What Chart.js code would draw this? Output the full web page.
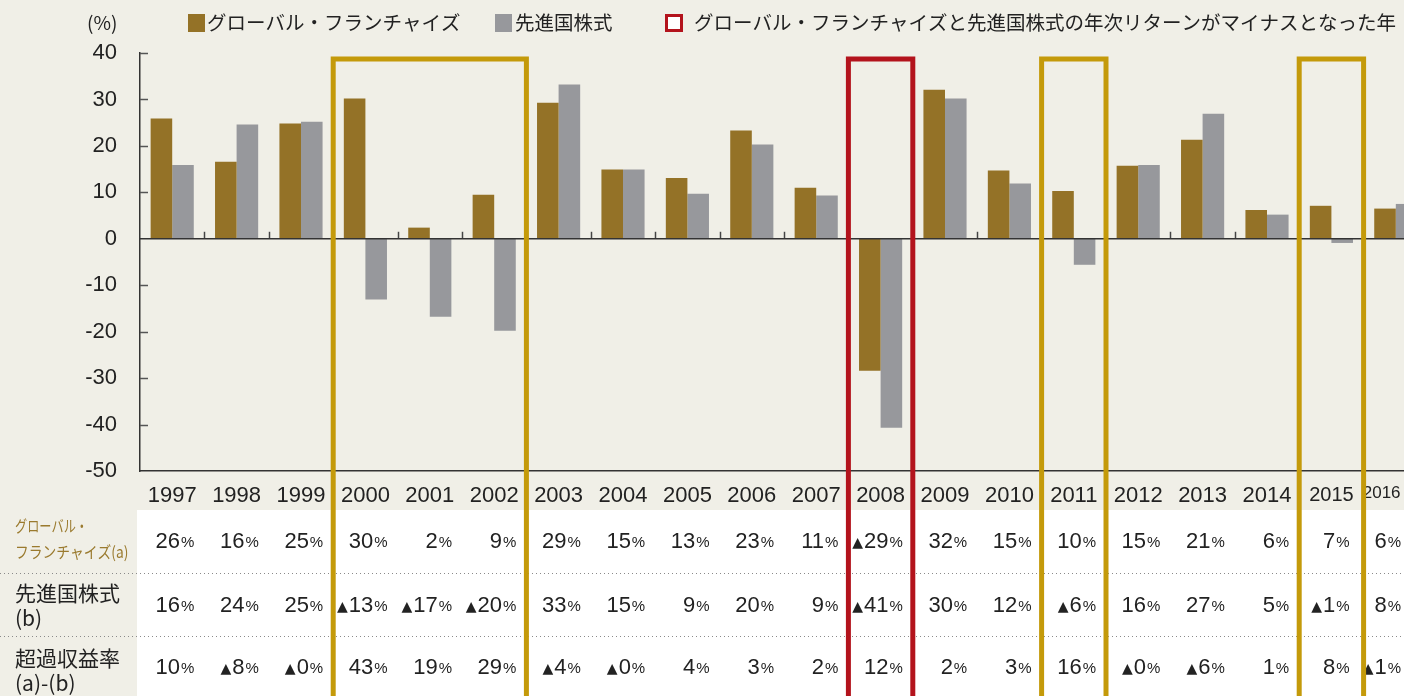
<!DOCTYPE html>
<html>
<head>
<meta charset="utf-8">
<script src="https://cdn.jsdelivr.net/npm/chart.js@4.4.1/dist/chart.umd.min.js"></script>
<style>
  html, body { margin: 0; padding: 0; background: #f0efe7; overflow: hidden; }
</style>
</head>
<body>
<canvas id="myChart" width="1428" height="696"></canvas>
<script>
const years = ['1997','1998','1999','2000','2001','2002','2003','2004','2005','2006',
  '2007','2008','2009','2010','2011','2012','2013','2014','2015','2016'];

// bar heights (%)
const franchise = [25.9, 16.6, 24.8, 30.2, 2.4, 9.5, 29.3, 14.9, 13.1, 23.3,
  11.0, -28.4, 32.1, 14.7, 10.3, 15.7, 21.3, 6.2, 7.1, 6.5];
const developed = [15.9, 24.6, 25.2, -13.1, -16.8, -19.8, 33.2, 14.9, 9.7, 20.3,
  9.3, -40.7, 30.2, 11.9, -5.6, 15.9, 26.9, 5.2, -0.9, 7.5];

// table rows as printed (▲ = minus)
const rowFranchise = ['26','16','25','30','2','9','29','15','13','23',
  '11','▲29','32','15','10','15','21','6','7','6'];
const rowDeveloped = ['16','24','25','▲13','▲17','▲20','33','15','9','20',
  '9','▲41','30','12','▲6','16','27','5','▲1','8'];
const rowExcess = ['10','▲8','▲0','43','19','29','▲4','▲0','4','3',
  '2','12','2','3','16','▲0','▲6','1','8','▲1'];

const seriesNames = ['グローバル・フランチャイズ', '先進国株式'];
const boxNote = 'グローバル・フランチャイズと先進国株式の年次リターンがマイナスとなった年';

// highlighted year ranges
const goldRanges = [['2000','2002'], ['2011','2011'], ['2015','2015']];
const redRanges = [['2008','2008']];

const BROWN = '#947227';
const GRAY = '#97989c';
const GOLD = '#c49a0a';
const RED = '#b3131c';
const BG = '#f0efe7';
const NUM_FONT = "'Liberation Sans', Arial, 'Noto Sans CJK JP', sans-serif";
const JP_FONT = "'Noto Sans CJK JP', 'Liberation Sans', sans-serif";

// condensed text helper
function squeezeText(ctx, text, x, y, sx) {
  ctx.save();
  ctx.translate(x, y);
  ctx.scale(sx, 1);
  ctx.fillText(text, 0, 0);
  ctx.restore();
}

const drawExtras = {
  id: 'drawExtras',
  beforeDraw(chart) {
    const ctx = chart.ctx;
    ctx.save();
    ctx.fillStyle = BG;
    ctx.fillRect(0, 0, chart.width, chart.height);
    ctx.restore();
  },
  afterDatasetsDraw(chart) {
    const ctx = chart.ctx;
    const xs = chart.scales.x;
    const ys = chart.scales.y;
    const area = chart.chartArea;
    const w = xs.getPixelForValue(1) - xs.getPixelForValue(0);
    const y0 = ys.getPixelForValue(0);
    ctx.save();
    // small ticks on the zero line
    ctx.strokeStyle = '#444';
    ctx.lineWidth = 1.5;
    for (let i = 1; i < years.length; i++) {
      const x = Math.round(xs.getPixelForValue(i) - w / 2) + 0.5;
      ctx.beginPath();
      ctx.moveTo(x, y0);
      ctx.lineTo(x, y0 - 7);
      ctx.stroke();
    }
    // zero line
    ctx.strokeStyle = '#333';
    ctx.beginPath();
    ctx.moveTo(area.left, y0);
    ctx.lineTo(area.right, y0);
    ctx.stroke();
    // y ticks pointing inside
    ctx.strokeStyle = '#555';
    for (let v = 40; v >= -50; v -= 10) {
      if (v === 0 || v === -50) continue;
      const y = Math.round(ys.getPixelForValue(v)) + 0.5;
      ctx.beginPath();
      ctx.moveTo(area.left, y);
      ctx.lineTo(area.left + 8, y);
      ctx.stroke();
    }
    ctx.restore();
  },
  afterDraw(chart) {
    const ctx = chart.ctx;
    const xs = chart.scales.x;
    const w = xs.getPixelForValue(1) - xs.getPixelForValue(0);
    ctx.save();

    // table background
    ctx.fillStyle = '#ffffff';
    ctx.fillRect(137, 510, chart.width - 137, chart.height - 510);

    // dotted separators
    ctx.strokeStyle = '#8a8a8a';
    ctx.lineWidth = 1;
    ctx.setLineDash([1, 3]);
    [573.5, 636.5].forEach(y => {
      ctx.beginPath();
      ctx.moveTo(0, y);
      ctx.lineTo(chart.width, y);
      ctx.stroke();
    });
    ctx.setLineDash([]);

    // row labels
    ctx.textBaseline = 'middle';
    ctx.textAlign = 'left';
    ctx.fillStyle = '#9a7a2e';
    ctx.font = '16px ' + JP_FONT;
    squeezeText(ctx, 'グローバル・', 15, 526, 0.76);
    squeezeText(ctx, 'フランチャイズ(a)', 15, 552, 0.86);
    ctx.fillStyle = '#222';
    ctx.font = '21px ' + JP_FONT;
    ctx.fillText('先進国株式', 15, 593);
    ctx.fillText('(b)', 15, 618);
    ctx.fillText('超過収益率', 15, 658);
    ctx.fillText('(a)-(b)', 15, 683);

    // table values
    const rows = [[rowFranchise, 542], [rowDeveloped, 606], [rowExcess, 668]];
    rows.forEach(([vals, y]) => {
      vals.forEach((s, i) => {
        let x = xs.getPixelForValue(i) + w / 2 - 10;
        if (i === 18) x = xs.getPixelForValue(i) + w / 2 - 14;
        if (i === 19) x = 1401;
        ctx.textAlign = 'right';
        ctx.fillStyle = '#222';
        ctx.font = '15px ' + NUM_FONT;
        ctx.fillText('%', x, y + 1);
        x -= ctx.measureText('%').width + 1;
        const neg = s.startsWith('▲');
        const num = neg ? s.slice(1) : s;
        ctx.font = '22px ' + NUM_FONT;
        ctx.fillText(num, x, y);
        if (neg) {
          x -= ctx.measureText(num).width + 1;
          ctx.font = '14px ' + "'DejaVu Sans', sans-serif";
          ctx.fillText('▲', x, y + 1);
        }
      });
    });

    // highlight boxes
    ctx.lineWidth = 5;
    const drawBox = (range, color) => {
      const i0 = years.indexOf(range[0]);
      const i1 = years.indexOf(range[1]);
      const left = xs.getPixelForValue(i0) - w / 2;
      const right = xs.getPixelForValue(i1) + w / 2;
      ctx.strokeStyle = color;
      ctx.strokeRect(left, 59, right - left, 700 - 59);
    };
    goldRanges.forEach(r => drawBox(r, GOLD));
    redRanges.forEach(r => drawBox(r, RED));

    // legend + unit
    ctx.textAlign = 'left';
    ctx.textBaseline = 'middle';
    ctx.fillStyle = '#222';
    ctx.font = '19px ' + JP_FONT;
    ctx.fillText('(%)', 87, 23);
    ctx.font = '19.5px ' + JP_FONT;
    ctx.fillStyle = BROWN;
    ctx.fillRect(188, 14, 17, 18);
    ctx.fillStyle = '#222';
    ctx.fillText(seriesNames[0], 207, 23);
    ctx.fillStyle = GRAY;
    ctx.fillRect(495, 14, 17, 18);
    ctx.fillStyle = '#222';
    ctx.fillText(seriesNames[1], 515, 23);
    ctx.fillStyle = '#fff';
    ctx.fillRect(666, 15, 16, 16);
    ctx.strokeStyle = RED;
    ctx.lineWidth = 3;
    ctx.strokeRect(666.5, 15.5, 15, 15);
    ctx.fillStyle = '#222';
    ctx.fillText(boxNote, 694, 23);

    ctx.restore();
  }
};

const data = {
  labels: years,
  datasets: [
    {
      label: seriesNames[0],
      data: franchise,
      backgroundColor: BROWN,
      categoryPercentage: 0.67,
      barPercentage: 1.0
    },
    {
      label: seriesNames[1],
      data: developed,
      backgroundColor: GRAY,
      categoryPercentage: 0.67,
      barPercentage: 1.0
    }
  ]
};

const config = {
  type: 'bar',
  data: data,
  options: {
    responsive: false,
    animation: false,
    events: [],
    layout: { padding: { top: 53, left: 0, right: 0, bottom: 0 } },
    plugins: {
      legend: { display: false },
      tooltip: { enabled: false }
    },
    scales: {
      x: {
        grid: { display: false, drawTicks: false },
        border: { display: true, color: '#333', width: 1.5 },
        ticks: {
          padding: 12,
          color: '#222',
          autoSkip: false,
          maxRotation: 0,
          // last label sits left of its column in the original
          callback: (v, i) => i === 19 ? years[i] + '      ' : years[i],
          font: (c) => c.index === 19
            ? { family: NUM_FONT, size: 17 }
            : c.index === 18
              ? { family: NUM_FONT, size: 20 }
              : { family: NUM_FONT, size: 22 }
        },
        afterFit: (s) => {
          s.height = 225;
          s.paddingLeft = 0;
          s.paddingRight = 0;
        }
      },
      y: {
        min: -50,
        max: 40,
        grid: { display: false, drawTicks: false },
        border: { display: true, color: '#333', width: 1.5 },
        ticks: {
          stepSize: 10,
          padding: 23,
          color: '#222',
          font: { family: NUM_FONT, size: 22 }
        },
        afterFit: (s) => { s.width = 140; }
      }
    }
  },
  plugins: [drawExtras]
};

const myChart = new Chart(document.getElementById('myChart'), config);
</script>
</body>
</html>
